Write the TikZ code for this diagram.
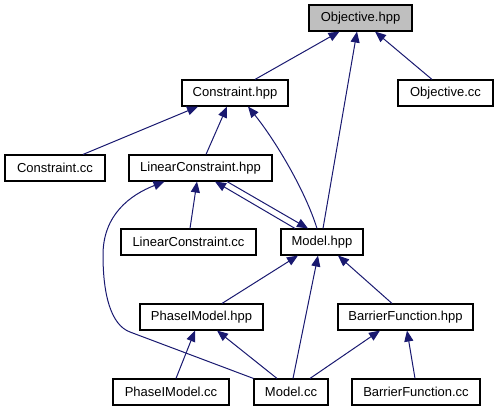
\documentclass[tikz,border=0pt]{standalone}
\usepackage{fontspec}
\setmainfont{Liberation Sans}
\usetikzlibrary{arrows.meta}
\definecolor{edgeblue}{HTML}{191970}
\definecolor{curfill}{HTML}{BFBFBF}
\tikzset{
  filebox/.style={draw=black, line width=1.1pt, fill=white, inner sep=0pt,
    minimum height=26pt, font=\fontsize{13}{15}\selectfont, anchor=center},
  curbox/.style={filebox, fill=curfill},
  dep/.style={draw=edgeblue, line width=1pt,
    -{Triangle[length=11pt,width=9pt]}},
}
\begin{document}
\begin{tikzpicture}[x=1pt,y=-1pt]
\useasboundingbox (0,0) rectangle (499,411);
\node[curbox, minimum width=103pt] (obj) at (360.5,18) {Objective.hpp};
\node[filebox, minimum width=106pt] (con) at (235,93) {Constraint.hpp};
\node[filebox, minimum width=95pt] (objcc) at (445.5,93) {Objective.cc};
\node[filebox, minimum width=100pt] (concc) at (55,168) {Constraint.cc};
\node[filebox, minimum width=143pt] (lc) at (200.5,168) {LinearConstraint.hpp};
\node[filebox, minimum width=135pt] (lccc) at (188.5,242) {LinearConstraint.cc};
\node[filebox, minimum width=82pt] (mh) at (322,242) {Model.hpp};
\node[filebox, minimum width=123pt] (pmh) at (201.5,317) {PhaseIModel.hpp};
\node[filebox, minimum width=135pt] (bfh) at (405.5,317) {BarrierFunction.hpp};
\node[filebox, minimum width=116pt] (pmcc) at (171,392) {PhaseIModel.cc};
\node[filebox, minimum width=74pt] (mcc) at (291,392) {Model.cc};
\node[filebox, minimum width=128pt] (bfcc) at (416,392) {BarrierFunction.cc};

\path[dep] ([xshift=20pt]con.north) -- ([xshift=-21pt]obj.south);
\path[dep] ([xshift=1pt]mh.north) -- ([xshift=-3.5pt]obj.south);
\path[dep] ([xshift=-13.5pt]objcc.north) -- ([xshift=14.5pt]obj.south);
\path[dep] ([xshift=28pt]concc.north) -- ([xshift=-37pt]con.south);
\path[dep] ([xshift=5.5pt]lc.north) -- ([xshift=-8pt]con.south);
\path[dep] ([xshift=-5pt]mh.north) .. controls (305,190) and (275,140) .. ([xshift=13pt]con.south);
\path[dep] ([xshift=1.5pt]lccc.north) -- ([xshift=-3.5pt]lc.south);
\path[dep] ([xshift=-27pt]mh.north) -- ([xshift=14.5pt]lc.south);
\path[dep] ([xshift=26.5pt]lc.south) -- ([xshift=-14pt]mh.north);
\path[dep] (mcc.north west) -- (130,332) .. controls (111,325) and (103,295) .. (103,255)
   .. controls (103,215) and (130,195) .. ([xshift=-36pt]lc.south);
\path[dep] ([xshift=20.5pt]pmh.north) -- ([xshift=-24pt]mh.south);
\path[dep] ([xshift=2pt]mcc.north) -- ([xshift=-4pt]mh.south);
\path[dep] ([xshift=-13.5pt]bfh.north) -- ([xshift=16pt]mh.south);
\path[dep] ([xshift=5pt]pmcc.north) -- ([xshift=-6.5pt]pmh.south);
\path[dep] ([xshift=-14pt]mcc.north) -- ([xshift=15.5pt]pmh.south);
\path[dep] ([xshift=19pt]mcc.north) -- ([xshift=-25.5pt]bfh.south);
\path[dep] ([xshift=-1pt]bfcc.north) -- ([xshift=1.5pt]bfh.south);
\end{tikzpicture}
\end{document}
